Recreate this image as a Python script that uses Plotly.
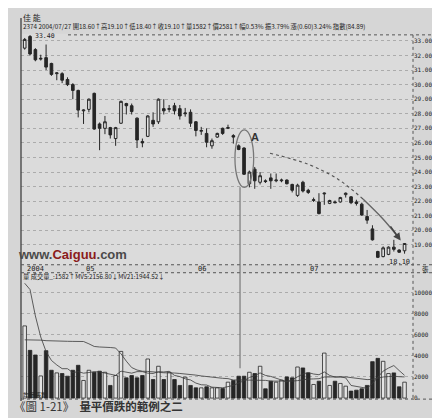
import plotly.graph_objects as go
import pandas as pd

# ---------------- data ----------------
stock_name = "佳 能"
header_text = "2374 2004/07/27 開18.60↑高19.10↑低18.40↑收19.10↑量1582↑價2581↑幅0.53% 振3.79% 漲(0.60)3.24% 指數(84.89)"
vol_header = "量 成交量_:1582↑MV5:2156.80↓MV21:1944.52↓"
caption = "《圖 1-21》  <b>量平價跌的範例之二</b>"

opens = [32.5, 33.3, 32.4, 31.75, 31.85, 31.45, 30.75, 30.75, 30.35, 30.0,
         29.6, 28.2, 28.3, 29.4, 27.3, 27.0, 27.05, 26.3, 27.35, 28.7,
         28.55, 27.7, 26.1, 26.45, 27.55, 27.45, 28.35, 28.3, 28.55, 28.35,
         28.0, 28.1, 27.45, 26.8, 26.65, 25.8, 26.4, 27.0, 27.0, 26.5,
         25.8, 25.65, 23.2, 24.2, 23.3, 23.4, 23.6, 23.4, 23.4, 23.45,
         23.15, 22.4, 23.3, 22.75, 22.05, 21.95, 22.5, 21.85, 21.95, 21.95,
         22.45, 22.3, 21.95, 21.8, 20.95, 20.1, 18.55, 18.2, 18.35, 18.85,
         18.65, 18.6]
highs = [33.2, 33.4, 32.5, 32.05, 32.75, 31.5, 30.85, 30.85, 30.5, 30.1,
         29.65, 28.3, 29.05, 29.45, 27.4, 27.85, 27.1, 27.1, 28.9, 28.75,
         28.7, 27.75, 26.3, 27.9, 28.1, 29.05, 29.0, 28.6, 28.75, 28.6,
         28.4, 28.3, 27.5, 27.1, 27.0, 26.3, 26.7, 27.05, 27.25, 26.6,
         25.9, 25.7, 24.1, 24.35, 24.0, 23.5, 23.9, 23.9, 23.55, 23.5,
         23.2, 23.2, 23.4, 22.85, 22.25, 22.55, 22.6, 22.1, 22.05, 22.3,
         22.6, 22.35, 22.1, 21.9, 21.4, 20.35, 18.6, 18.9, 18.9, 19.35,
         18.7, 19.1]
lows = [32.4, 32.0, 31.6, 31.65, 31.0, 30.6, 30.3, 30.1, 29.9, 29.0,
        27.75, 27.3, 28.1, 26.9, 25.5, 26.6, 26.3, 25.8, 27.3, 27.95,
        27.95, 25.65, 25.7, 26.4, 27.1, 27.3, 27.95, 28.1, 27.95, 27.6,
        27.8, 27.1, 26.45, 26.55, 25.7, 25.6, 26.35, 26.55, 26.95, 25.95,
        25.5, 23.8, 22.95, 22.85, 23.15, 23.25, 22.85, 23.3, 23.3, 23.15,
        22.6, 22.3, 22.6, 22.5, 21.95, 21.1, 21.75, 21.8, 21.85, 21.9,
        22.25, 21.8, 21.7, 21.0, 20.45, 19.3, 18.1, 18.15, 18.3, 18.55,
        18.45, 18.4]
closes = [33.1, 32.1, 31.7, 31.8, 31.2, 30.7, 30.8, 30.3, 30.0, 29.6,
          28.25, 28.25, 29.0, 26.95, 27.0, 27.45, 26.55, 27.05, 28.85, 28.55,
          28.15, 26.2, 26.0, 27.85, 27.3, 29.0, 28.2, 28.35, 28.2, 27.85,
          28.05, 27.35, 26.85, 26.85, 26.05, 26.15, 26.65, 26.65, 27.05, 26.4,
          25.55, 23.85, 24.0, 23.4, 23.75, 23.35, 23.4, 23.45, 23.45, 23.2,
          22.75, 23.1, 22.7, 22.6, 22.1, 21.15, 22.55, 22.05, 21.9, 22.25,
          22.55, 21.9, 21.85, 21.05, 20.7, 19.35, 18.15, 18.8, 18.85, 18.7,
          18.5, 19.1]
volumes = [6850, 4530, 4090, 2100, 4500, 2640, 2390, 2330, 2075, 2640,
           3110, 1670, 2640, 2450, 2550, 2450, 1200, 2140, 4430, 1920,
           2140, 1920, 2140, 3710, 1760, 3020, 1760, 2450, 1760, 1200,
           1980, 1200, 970, 970, 1070, 970, 970, 910, 1510, 1670,
           2075, 2075, 2450, 2330, 3020, 880, 1600, 1510, 1700, 2010,
           1920, 2950, 2860, 2390, 1290, 1600, 4270, 1200, 1600, 1390,
           1130, 660, 750, 880, 1200, 3460, 3770, 3490, 2330, 2390,
           1070, 1510]
# moving-average values before a full window exists
mv5_head = [10900, 10300, 7800, 5800]
mv21_head = [5530, 5530, 5530, 5500, 5450, 5420, 5400, 5400, 5390, 5380,
             5380, 5370, 5150, 4900, 4850, 4850, 4800, 4750, 4200, 3500]

date_idx = [0, 11, 32, 53]
date_labels = ["2004", "05", "06", "07"]
price_ticks = [19, 20, 21, 22, 23, 24, 25, 26, 27, 28, 29, 30, 31, 32, 33]
vol_ticks = [0, 2000, 4000, 6000, 8000, 10000]

# annotation helpers (A mark, arrow path)
a_ellipse = dict(x0=39.3, x1=42.8, y0=22.95, y1=26.9)
a_line_x = 40.25
arrow_i = [45.85, 52.95, 58.56, 63.23, 66.97, 69.78]
arrow_p = [25.29, 24.54, 23.51, 22.15, 20.78, 19.55]

# ---------------- figure ----------------
W, H = 440, 418
def py(y):
    return 1 - y / H
def px(x):
    return x / W

idx = list(range(len(closes)))
vol = pd.Series(volumes, dtype=float)
mv5 = vol.rolling(5).mean().tolist()
mv21 = vol.rolling(21).mean().tolist()
mv5[:len(mv5_head)] = mv5_head
mv21[:len(mv21_head)] = mv21_head

DARK = "#262626"
HOLLOW = "#e4e4e4"
BG = "#d6d6d6"

fig = go.Figure()
fig.add_trace(go.Candlestick(
    x=idx, open=opens, high=highs, low=lows, close=closes,
    increasing=dict(line=dict(color=DARK, width=1), fillcolor=HOLLOW),
    decreasing=dict(line=dict(color=DARK, width=1), fillcolor=DARK),
    whiskerwidth=0, xaxis="x", yaxis="y", showlegend=False, hoverinfo="skip"))

vcolors = [HOLLOW if c >= o else DARK for o, c in zip(opens, closes)]
fig.add_trace(go.Bar(x=idx, y=volumes, width=0.66, marker=dict(color=vcolors, line=dict(color=DARK, width=0.8)),
                     xaxis="x2", yaxis="y2", showlegend=False))
fig.add_trace(go.Scatter(x=idx, y=mv5, mode="lines", line=dict(color="#3a3a3a", width=0.8),
                         xaxis="x2", yaxis="y2", showlegend=False))
fig.add_trace(go.Scatter(x=idx, y=mv21, mode="lines", line=dict(color="#3a3a3a", width=0.8),
                         xaxis="x2", yaxis="y2", showlegend=False))

# curved arrow
fig.add_trace(go.Scatter(x=arrow_i[:4], y=arrow_p[:4], mode="lines", line=dict(color="#555", width=1.2, dash="dot", shape="spline"),
                         xaxis="x", yaxis="y", showlegend=False))
fig.add_trace(go.Scatter(x=arrow_i[3:], y=arrow_p[3:], mode="lines", line=dict(color="#666", width=1.4, shape="spline"),
                         xaxis="x", yaxis="y", showlegend=False))

xr = [-0.69, 72.58]
xdom = [px(13), px(405)]
tickfont = dict(family="DejaVu Sans Mono", size=6, color="#222")
fig.update_layout(
    width=W, height=H, margin=dict(l=0, r=0, t=0, b=0),
    paper_bgcolor=BG, plot_bgcolor="#dbdbdb",
    xaxis=dict(domain=xdom, range=xr, showgrid=False, showticklabels=False, zeroline=False,
               rangeslider=dict(visible=False), anchor="y", fixedrange=True),
    xaxis2=dict(domain=xdom, range=xr, showgrid=False, showticklabels=False, zeroline=False,
                anchor="y2", matches="x"),
    yaxis=dict(domain=[py(258), py(26)], range=[17.64, 33.48], side="right", anchor="x",
               tickvals=price_ticks, ticktext=["%.2f" % v for v in price_ticks],
               tickfont=tickfont, ticklabelstandoff=0,
               showgrid=True, gridcolor="#ababab", gridwidth=0.7, griddash="dot",
               zeroline=False, ticks="", ticklen=0),
    yaxis2=dict(domain=[py(393), py(266)], range=[-100, 11900], side="right", anchor="x2",
                tickvals=vol_ticks, ticktext=[str(v) for v in vol_ticks],
                tickfont=tickfont, ticklabelstandoff=0,
                showgrid=True, gridcolor="#ababab", gridwidth=0.7, griddash="dot",
                zeroline=False, ticks="", ticklen=0),
    bargap=0.3,
)

shapes = []
def pline(x0, y0, x1, y1, color="#333", width=1, dash="solid"):
    shapes.append(dict(type="line", xref="paper", yref="paper", x0=px(x0), x1=px(x1), y0=py(y0), y1=py(y1),
                       line=dict(color=color, width=width, dash=dash)))
shapes.append(dict(type="rect", xref="paper", yref="paper", x0=px(432), x1=1, y0=0, y1=1,
                   fillcolor="#b9b9b9", line=dict(width=0), layer="below"))
pline(13, 10, 13, 395, "#333", 1.2)
pline(432, 26, 432, 396, "#333", 1.2)
pline(405, 27, 405, 393, "#555", 1, "dot")
pline(60, 27, 432, 27, "#555", 1, "dot")
pline(13, 258, 432, 258, "#555", 1, "dot")
pline(13, 266, 432, 266, "#555", 1, "dot")
pline(13, 393, 432, 393, "#555", 1, "dot")
# A marker
shapes.append(dict(type="circle", xref="x", yref="y", line=dict(color="#777", width=1.3), **a_ellipse))
shapes.append(dict(type="line", xref="x", yref="paper", x0=a_line_x, x1=a_line_x, y0=py(180), y1=py(362),
                   line=dict(color="#666", width=1)))
fig.update_layout(shapes=shapes)

ann = []
def ptext(x, y, text, size=7, color="#222", family="Noto Sans CJK TC", xanchor="left"):
    ann.append(dict(xref="paper", yref="paper", x=px(x), y=py(y), text=text, showarrow=False,
                    xanchor=xanchor, yanchor="middle", font=dict(size=size, color=color, family=family)))
ptext(13, 10, stock_name, 8)
ptext(13, 19, header_text, 6.3)
ptext(13, 270, vol_header, 6.3)
ptext(13, 388, "均量張數", 6)
ptext(417, 262, "張", 6.5, xanchor="center")
ptext(4, 400, caption, 11.5, "#333")
ptext(8, 248, "<b>www.<span style='color:#8b1c1c'>Caiguu</span>.com</b>", 13, "#4a4a4a", "Liberation Sans")
for i, lab in zip(date_idx, date_labels):
    ann.append(dict(xref="x", yref="paper", x=i, y=py(262), text=lab, showarrow=False, xanchor="left",
                    yanchor="middle", font=dict(size=7, color="#222", family="DejaVu Sans Mono")))
# extreme labels
hi_i = highs.index(max(highs))
lo_i = lows.index(min(lows))
ann.append(dict(xref="x", yref="y", x=hi_i, y=max(highs), text="%.2f" % max(highs), showarrow=False,
                xanchor="left", yanchor="middle", xshift=3, yshift=-1, font=dict(size=6.5, color="#222", family="DejaVu Sans Mono")))
ann.append(dict(xref="x", yref="y", x=lo_i, y=min(lows), text="%.2f" % min(lows), showarrow=False,
                xanchor="left", yanchor="middle", xshift=9, yshift=-4, font=dict(size=7, color="#222", family="DejaVu Sans Mono")))
ann.append(dict(xref="x", yref="y", x=43, y=26.4, text="<b>A</b>", showarrow=False,
                font=dict(size=11, color="#333", family="Liberation Sans")))
ann.append(dict(xref="x", yref="y", x=arrow_i[-1] + 0.5, y=arrow_p[-1] - 0.25, ax=arrow_i[-2] + 1.2, ay=arrow_p[-2] - 0.4,
                axref="x", ayref="y", showarrow=True, arrowhead=2, arrowsize=1, arrowwidth=1.5,
                arrowcolor="#444", text=""))
fig.update_layout(annotations=ann)

fig.write_html("out.html")
